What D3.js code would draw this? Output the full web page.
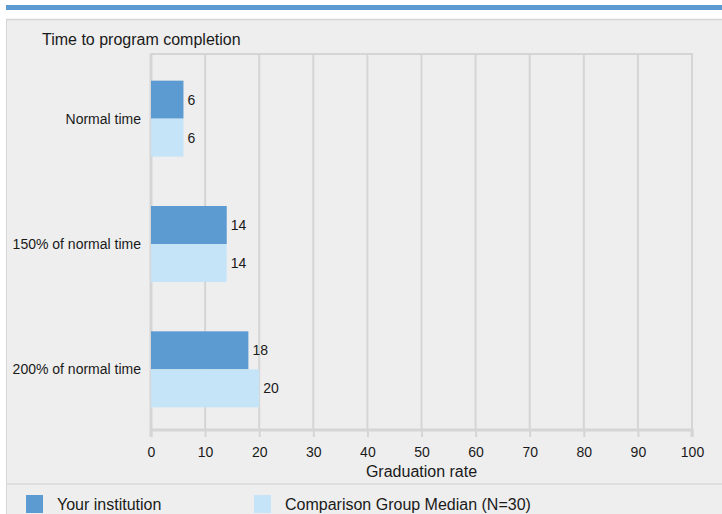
<html>
    <head>
        <title>Time to program completion</title>
        <script src="https://d3js.org/d3.v7.min.js" charset="utf-8"></script>
        <style>
        body{
            margin: 0;
            background: white;
            font-family: "Liberation Sans", Arial, sans-serif;
        }
        </style>
    </head>
    <body>
        <script>
            // data
            var categories = ["Normal time", "150% of normal time", "200% of normal time"];
            var seriesNames = ["Your institution", "Comparison Group Median (N=30)"];
            var yourInstitution = [6, 14, 18];
            var comparisonMedian = [6, 14, 20];
            var xTicks = [0, 10, 20, 30, 40, 50, 60, 70, 80, 90, 100];

            var width = 722;
            var height = 514;
            var darkColor = "#5b9bd1";
            var lightColor = "#c6e4f7";
            var gridColor = "#d5d5d5";
            var textColor = "#1a1a1a";

            var svg = d3.select("body")
                .append("svg")
                .attr("width", width)
                .attr("height", height);

            // top band
            svg.append("rect")
                .attr("x", 6).attr("y", 5)
                .attr("width", width - 6).attr("height", 5)
                .attr("fill", darkColor);

            // panel
            svg.append("rect")
                .attr("x", 6).attr("y", 19)
                .attr("width", width - 6).attr("height", height - 19)
                .attr("fill", "#eeeeee");
            svg.append("line")
                .attr("x1", 6).attr("x2", width).attr("y1", 19.5).attr("y2", 19.5)
                .attr("stroke", gridColor).attr("stroke-width", 1.5);
            svg.append("line")
                .attr("x1", 6.5).attr("x2", 6.5).attr("y1", 19).attr("y2", height)
                .attr("stroke", gridColor).attr("stroke-width", 1);
            svg.append("line")
                .attr("x1", 6).attr("x2", width).attr("y1", 484).attr("y2", 484)
                .attr("stroke", "#d9d9d9").attr("stroke-width", 1.5);

            svg.append("text")
                .attr("x", 42).attr("y", 45)
                .attr("font-size", 16)
                .attr("fill", textColor)
                .text("Time to program completion");

            var plotLeft = 151, plotRight = 692, plotTop = 54, plotBottom = 430;

            var x = d3.scaleLinear().domain([0, 100]).range([plotLeft, plotRight]);
            var y = d3.scaleBand().domain(categories).range([plotTop, plotBottom]);
            var inner = d3.scaleBand().domain(seriesNames).range([0, 76]);

            // grid
            var g = svg.append("g");
            g.selectAll("line.grid")
                .data(xTicks)
                .enter()
                .append("line")
                .attr("class", "grid")
                .attr("x1", function(d){ return x(d); })
                .attr("x2", function(d){ return x(d); })
                .attr("y1", plotTop)
                .attr("y2", plotBottom)
                .attr("stroke", gridColor)
                .attr("stroke-width", function(d){ return d == 0 ? 3 : 2; });
            g.append("line")
                .attr("x1", plotLeft - 1).attr("x2", plotRight + 1)
                .attr("y1", plotTop).attr("y2", plotTop)
                .attr("stroke", gridColor).attr("stroke-width", 2);

            // bottom axis
            var xAxis = svg.append("g")
                .attr("transform", "translate(0," + plotBottom + ")")
                .call(d3.axisBottom(x).tickValues(xTicks).tickSize(7).tickPadding(10));
            xAxis.select(".domain").attr("stroke", gridColor).attr("stroke-width", 3)
                .attr("d", "M" + plotLeft + ",7V0H" + plotRight + "V7");
            xAxis.selectAll(".tick line").attr("stroke", gridColor).attr("stroke-width", 2);
            xAxis.selectAll(".tick text")
                .attr("font-family", "Liberation Sans, Arial, sans-serif")
                .attr("font-size", 14).attr("fill", textColor);

            svg.append("text")
                .attr("x", (plotLeft + plotRight) / 2).attr("y", 477)
                .attr("text-anchor", "middle")
                .attr("font-size", 16)
                .attr("fill", textColor)
                .text("Graduation rate");

            // category labels
            svg.selectAll("text.cat")
                .data(categories)
                .enter()
                .append("text")
                .attr("class", "cat")
                .attr("x", 141)
                .attr("y", function(d){ return y(d) + y.bandwidth() / 2 + 7; })
                .attr("text-anchor", "end")
                .attr("font-size", 14)
                .attr("fill", textColor)
                .text(function(d){ return d; });

            // bars
            var series = [
                { name: seriesNames[0], values: yourInstitution, color: darkColor },
                { name: seriesNames[1], values: comparisonMedian, color: lightColor }
            ];
            var offset = (y.bandwidth() - 76) / 2 + 2;
            series.forEach(function(s){
                var bars = svg.append("g");
                bars.selectAll("rect")
                    .data(categories)
                    .enter()
                    .append("rect")
                    .attr("x", x(0))
                    .attr("y", function(d){ return y(d) + offset + inner(s.name); })
                    .attr("width", function(d, i){ return x(s.values[i]) - x(0); })
                    .attr("height", inner.bandwidth())
                    .attr("fill", s.color);
                bars.selectAll("text")
                    .data(categories)
                    .enter()
                    .append("text")
                    .attr("x", function(d, i){ return x(s.values[i]) + 4; })
                    .attr("y", function(d){ return y(d) + offset + inner(s.name) + inner.bandwidth() / 2 + 5; })
                    .attr("font-size", 14)
                    .attr("fill", textColor)
                    .text(function(d, i){ return s.values[i]; });
            });

            // legend
            var legendX = [26, 254];
            series.forEach(function(s, i){
                svg.append("rect")
                    .attr("x", legendX[i]).attr("y", 495)
                    .attr("width", 17).attr("height", 18)
                    .attr("fill", s.color);
                svg.append("text")
                    .attr("x", legendX[i] + 31).attr("y", 510)
                    .attr("font-size", 16)
                    .attr("fill", textColor)
                    .text(s.name);
            });
        </script>
    </body>
</html>
